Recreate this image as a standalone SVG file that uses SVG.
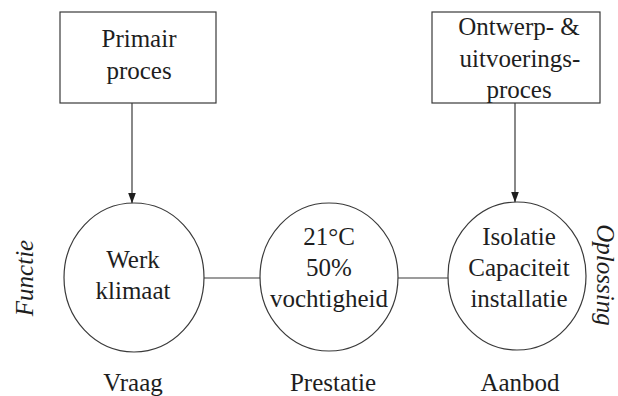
<svg xmlns="http://www.w3.org/2000/svg" width="618" height="396" viewBox="0 0 618 396" font-family="'Liberation Serif', 'Times New Roman', Times, serif">
  <defs>
    <style>
      text { font-family: 'Liberation Serif', 'Times New Roman', Times, serif; font-size: 25px; fill: #1e1e1e; text-anchor: middle; }
      .side { font-style: italic; }
      .shape { fill: #ffffff; stroke: #3a3a3a; stroke-width: 1.2; }
      .link { fill: none; stroke: #3a3a3a; stroke-width: 1.2; }
    </style>
    <marker id="arrow" viewBox="0 0 11 8" refX="11" refY="4" markerWidth="11" markerHeight="8" markerUnits="userSpaceOnUse" orient="auto">
      <path d="M0,0 L11,4 L0,8 Z" fill="#1e1e1e"/>
    </marker>
  </defs>
  <rect width="618" height="396" fill="#ffffff"/>

  <!-- connectors -->
  <g id="connectors">
    <line class="link" x1="132" y1="103" x2="132" y2="203.5" marker-end="url(#arrow)"/>
    <line class="link" x1="515" y1="103" x2="515" y2="202.5" marker-end="url(#arrow)"/>
    <line class="link" x1="204" y1="278" x2="260" y2="278"/>
    <line class="link" x1="398" y1="278" x2="448" y2="278"/>
  </g>

  <g id="primair-proces" font-family="Liberation Serif">
    <rect class="shape" x="60" y="12" width="156" height="91"/>
    <text x="139" y="47">Primair</text>
    <text x="139" y="79">proces</text>
  </g>

  <g id="ontwerp-proces">
    <rect class="shape" x="432" y="12" width="168" height="91"/>
    <text x="519" y="35">Ontwerp- &amp;</text>
    <text x="520" y="67">uitvoerings-</text>
    <text x="519" y="98">proces</text>
  </g>

  <g id="werk-klimaat">
    <ellipse class="shape" cx="134" cy="277.5" rx="70" ry="74.5"/>
    <text x="133" y="268">Werk</text>
    <text x="133" y="299">klimaat</text>
  </g>

  <g id="prestatie-waarden">
    <ellipse class="shape" cx="329" cy="277" rx="69" ry="74"/>
    <text x="329" y="245">21°C</text>
    <text x="329" y="276">50%</text>
    <text x="329" y="307">vochtigheid</text>
  </g>

  <g id="oplossing-installatie">
    <ellipse class="shape" cx="517" cy="276" rx="69" ry="74"/>
    <text x="519" y="245">Isolatie</text>
    <text x="519" y="276">Capaciteit</text>
    <text x="519" y="307">installatie</text>
  </g>

  <g id="labels">
    <text x="133" y="391">Vraag</text>
    <text x="333" y="391">Prestatie</text>
    <text x="520" y="391">Aanbod</text>
    <text class="side" transform="translate(33,278) rotate(-90)">Functie</text>
    <text class="side" transform="translate(597,275) rotate(90)">Oplossing</text>
  </g>
</svg>
